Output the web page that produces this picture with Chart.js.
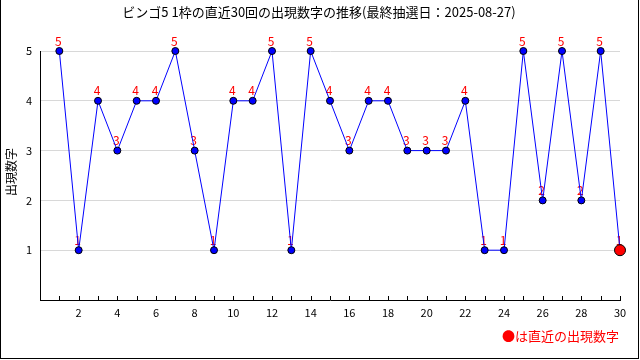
<!DOCTYPE html>
<html>
<head>
<meta charset="utf-8">
<script src="https://cdn.jsdelivr.net/npm/chart.js@4.4.0/dist/chart.umd.min.js"></script>
<style>
    body { margin: 0; background: #fff; }
    #chart { display: block; }
</style>
</head>
<body>
<canvas id="chart" width="640" height="360"></canvas>
<script>
// ビンゴ5 1枠 - 直近30回の出現数字

const titleText = 'ビンゴ5 1枠の直近30回の出現数字の推移(最終抽選日：2025-08-27)';
const yTitle = '出現数字';
const legendText = '●は直近の出現数字';

const draws = [1, 2, 3, 4, 5, 6, 7, 8, 9, 10, 11, 12, 13, 14, 15,
    16, 17, 18, 19, 20, 21, 22, 23, 24, 25, 26, 27, 28, 29, 30];
const numbers = [5, 1, 4, 3, 4, 4, 5, 3, 1, 4, 4, 5, 1, 5, 4,
    3, 4, 4, 3, 3, 3, 4, 1, 1, 5, 2, 5, 2, 5, 1];
const xTickLabels = [2, 4, 6, 8, 10, 12, 14, 16, 18, 20, 22, 24, 26, 28, 30];
const yTickLabels = [1, 2, 3, 4, 5];

const FONT = '"Noto Sans CJK JP", "DejaVu Sans", sans-serif';
const lastIdx = numbers.length - 1;

// title, axis title, legend note, frame, inward x ticks, value labels
const decorPlugin = {
    id: 'decor',
    beforeDatasetsDraw(chart) {
        const ctx = chart.ctx;
        const meta = chart.getDatasetMeta(0);
        ctx.save();
        ctx.fillStyle = '#ff0000';
        ctx.font = '12px ' + FONT;
        ctx.textAlign = 'center';
        ctx.textBaseline = 'bottom';
        meta.data.forEach((pt, i) => {
            ctx.fillText(String(numbers[i]), pt.x - 1, pt.y - 4);
        });
        ctx.restore();
    },
    afterDraw(chart) {
        const ctx = chart.ctx;
        const xs = chart.scales.x;
        const area = chart.chartArea;
        ctx.save();

        // tick marks pointing up into the plot
        ctx.strokeStyle = '#000';
        ctx.lineWidth = 1;
        ctx.beginPath();
        draws.forEach(d => {
            const px = Math.round(xs.getPixelForValue(d)) + 0.5;
            ctx.moveTo(px, area.bottom);
            ctx.lineTo(px, area.bottom - 4);
        });
        ctx.stroke();

        ctx.fillStyle = '#000';
        ctx.font = '13px ' + FONT;
        ctx.textAlign = 'center';
        ctx.textBaseline = 'middle';
        ctx.fillText(titleText, 319, 12);

        ctx.save();
        ctx.font = '12px ' + FONT;
        ctx.translate(11, 172);
        ctx.rotate(-Math.PI / 2);
        ctx.fillText(yTitle, 0, 0);
        ctx.restore();

        ctx.fillStyle = '#ff0000';
        ctx.textAlign = 'right';
        ctx.font = '13px ' + FONT;
        ctx.fillText(legendText, 619, 336);

        ctx.strokeStyle = '#000';
        ctx.strokeRect(0.5, -0.5, 638, 359);
        ctx.restore();
    }
};

new Chart(document.getElementById('chart'), {
    type: 'line',
    data: {
        datasets: [{
            data: numbers.map((v, i) => ({ x: draws[i], y: v })),
            borderColor: '#0000ff',
            borderWidth: 1,
            tension: 0,
            clip: false,
            pointRadius: numbers.map((v, i) => i === lastIdx ? 5.5 : 3.5),
            pointBackgroundColor: numbers.map((v, i) => i === lastIdx ? '#ff0000' : '#0000ff'),
            pointBorderColor: '#000',
            pointBorderWidth: 1
        }]
    },
    options: {
        responsive: false,
        animation: false,
        layout: { padding: { left: 0, top: 51, right: 20, bottom: 40 } },
        plugins: {
            legend: { display: false },
            title: { display: false },
            tooltip: { enabled: false }
        },
        scales: {
            x: {
                type: 'linear',
                min: 0,
                max: 30,
                afterFit: s => { s.height = 20; },
                afterBuildTicks: s => { s.ticks = xTickLabels.map(v => ({ value: v })); },
                grid: { display: false, drawTicks: false },
                border: { color: '#000', width: 1 },
                ticks: { color: '#000', font: { family: FONT, size: 11 }, padding: 6, maxRotation: 0 }
            },
            y: {
                min: 0,
                max: 5,
                afterFit: s => { s.width = 40; },
                afterBuildTicks: s => { s.ticks = yTickLabels.map(v => ({ value: v })); },
                grid: { color: '#d8d8d8', drawTicks: false },
                border: { color: '#000', width: 1 },
                ticks: { color: '#000', font: { family: FONT, size: 11 }, padding: 8 }
            }
        }
    },
    plugins: [decorPlugin]
});
</script>
</body>
</html>
